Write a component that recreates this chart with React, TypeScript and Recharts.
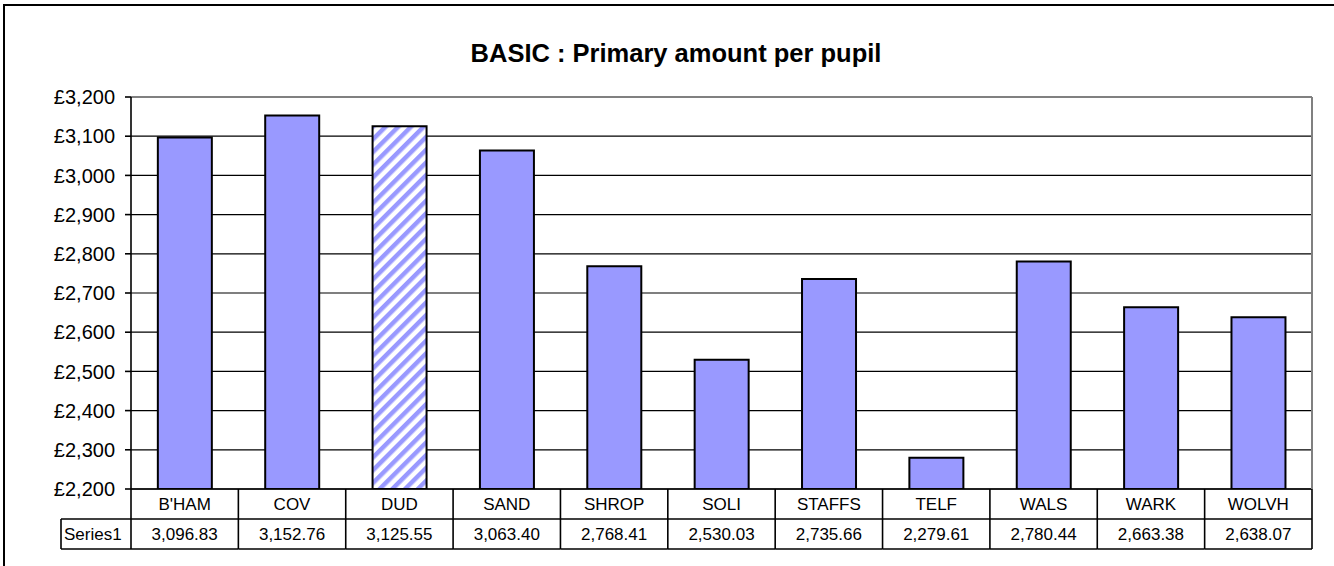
import React from 'react';
import { BarChart, Bar, XAxis, YAxis, CartesianGrid, ReferenceLine, Cell } from 'recharts';

const categories = ["B'HAM", 'COV', 'DUD', 'SAND', 'SHROP', 'SOLI', 'STAFFS', 'TELF', 'WALS', 'WARK', 'WOLVH'];
const values = [3096.83, 3152.76, 3125.55, 3063.4, 2768.41, 2530.03, 2735.66, 2279.61, 2780.44, 2663.38, 2638.07];
const yTicks = [2200, 2300, 2400, 2500, 2600, 2700, 2800, 2900, 3000, 3100, 3200];
const highlighted = 'DUD';
const seriesName = 'Series1';
const title = 'BASIC : Primary amount per pupil';

const data = categories.map((c, i) => ({ name: c, value: values[i] }));

const W = 1334;
const H = 566;
const M_TOP = 97;
const M_RIGHT = 21;
const Y_W = 131;
const YR_W = 1;
const X_H = 77;
const PLOT_W = W - Y_W - M_RIGHT - YR_W;
const CELL_W = PLOT_W / categories.length;
const ROW_H = 30;
const LABEL_CELL_W = 70;
const FONT = '"Liberation Sans", Arial, sans-serif';

const fmtMoney = (v: number) => '£' + v.toLocaleString('en-GB');
const fmtVal = (v: number) =>
  v.toLocaleString('en-GB', { minimumFractionDigits: 2, maximumFractionDigits: 2 });

const LW = 1.6;

const TableTick = (props: any) => {
  const { x, y, payload, index } = props;
  const left = x - CELL_W / 2;
  const right = x + CELL_W / 2;
  const v = values[index];
  return (
    <g>
      {index === 0 && (
        <g>
          <line x1={left - LABEL_CELL_W} y1={y + ROW_H} x2={left} y2={y + ROW_H} stroke="#000" strokeWidth={LW} />
          <line x1={left - LABEL_CELL_W} y1={y + 2 * ROW_H} x2={left} y2={y + 2 * ROW_H} stroke="#000" strokeWidth={LW} />
          <line x1={left - LABEL_CELL_W} y1={y + ROW_H} x2={left - LABEL_CELL_W} y2={y + 2 * ROW_H} stroke="#000" strokeWidth={LW} />
          <line x1={left} y1={y} x2={left} y2={y + 2 * ROW_H} stroke="#000" strokeWidth={LW} />
          <text x={left - LABEL_CELL_W + 3} y={y + ROW_H + 21} fontSize={17} fontFamily={FONT} fill="#000">
            {seriesName}
          </text>
        </g>
      )}
      <line x1={left} y1={y + ROW_H} x2={right} y2={y + ROW_H} stroke="#000" strokeWidth={LW} />
      <line x1={left} y1={y + 2 * ROW_H} x2={right} y2={y + 2 * ROW_H} stroke="#000" strokeWidth={LW} />
      <line x1={right} y1={y} x2={right} y2={y + 2 * ROW_H} stroke="#000" strokeWidth={LW} />
      <text x={x} y={y + 21} textAnchor="middle" fontSize={17} fontFamily={FONT} fill="#000">
        {payload.value}
      </text>
      <text x={x} y={y + ROW_H + 21} textAnchor="middle" fontSize={17} fontFamily={FONT} fill="#000">
        {fmtVal(v)}
      </text>
    </g>
  );
};

export default function App() {
  return (
    <div style={{ position: 'absolute', left: 0, top: 0, width: W, height: H, overflow: 'hidden', background: '#fff' }}>
      <div
        style={{
          position: 'absolute',
          left: 3,
          top: 4,
          width: W + 50,
          height: H + 50,
          borderLeft: '2px solid #000',
          borderTop: '2px solid #000',
        }}
      />
      <div
        style={{
          position: 'absolute',
          left: 0,
          top: 38,
          width: W,
          textAlign: 'center',
          fontFamily: FONT,
          fontWeight: 'bold',
          fontSize: 25.5,
          color: '#000',
          lineHeight: '30px',
          paddingLeft: 18,
          boxSizing: 'border-box',
        }}
      >
        {title}
      </div>
      <div style={{ position: 'absolute', left: 0, top: 0 }}>
        <BarChart
          width={W}
          height={H}
          data={data}
          margin={{ top: M_TOP, right: M_RIGHT, left: 0, bottom: 0 }}
          barCategoryGap="25%"
        >
          <defs>
            <pattern id="stripes" patternUnits="userSpaceOnUse" width={9} height={9} patternTransform="rotate(45)">
              <rect width={9} height={9} fill="#fff" />
              <rect width={4.5} height={9} fill="#9999FF" />
            </pattern>
          </defs>
          <CartesianGrid yAxisId="left" vertical={false} stroke="#000" strokeWidth={1.2} />
          <XAxis
            dataKey="name"
            height={X_H}
            tickLine={false}
            tickSize={0}
            tickMargin={0}
            axisLine={{ stroke: '#000', strokeWidth: LW }}
            tick={<TableTick />}
            interval={0}
          />
          <YAxis
            yAxisId="left"
            width={Y_W}
            domain={[2200, 3200]}
            ticks={yTicks}
            interval={0}
            tickFormatter={fmtMoney}
            tickSize={6}
            tickMargin={10}
            tickLine={{ stroke: '#000', strokeWidth: LW }}
            axisLine={{ stroke: '#000', strokeWidth: LW }}
            tick={{ fill: '#000', fontSize: 20, fontFamily: FONT }}
            allowDataOverflow
          />
          <YAxis
            yAxisId="right"
            orientation="right"
            width={YR_W}
            domain={[2200, 3200]}
            ticks={yTicks}
            tick={false}
            tickLine={false}
            axisLine={{ stroke: '#808080', strokeWidth: 2 }}
          />
          <ReferenceLine yAxisId="left" y={3200} stroke="#808080" strokeWidth={2} />
          <Bar yAxisId="left" dataKey="value" fill="#9999FF" stroke="#000" strokeWidth={2} isAnimationActive={false}>
            {data.map((d) => (
              <Cell key={d.name} fill={d.name === highlighted ? 'url(#stripes)' : '#9999FF'} />
            ))}
          </Bar>
        </BarChart>
      </div>
    </div>
  );
}
